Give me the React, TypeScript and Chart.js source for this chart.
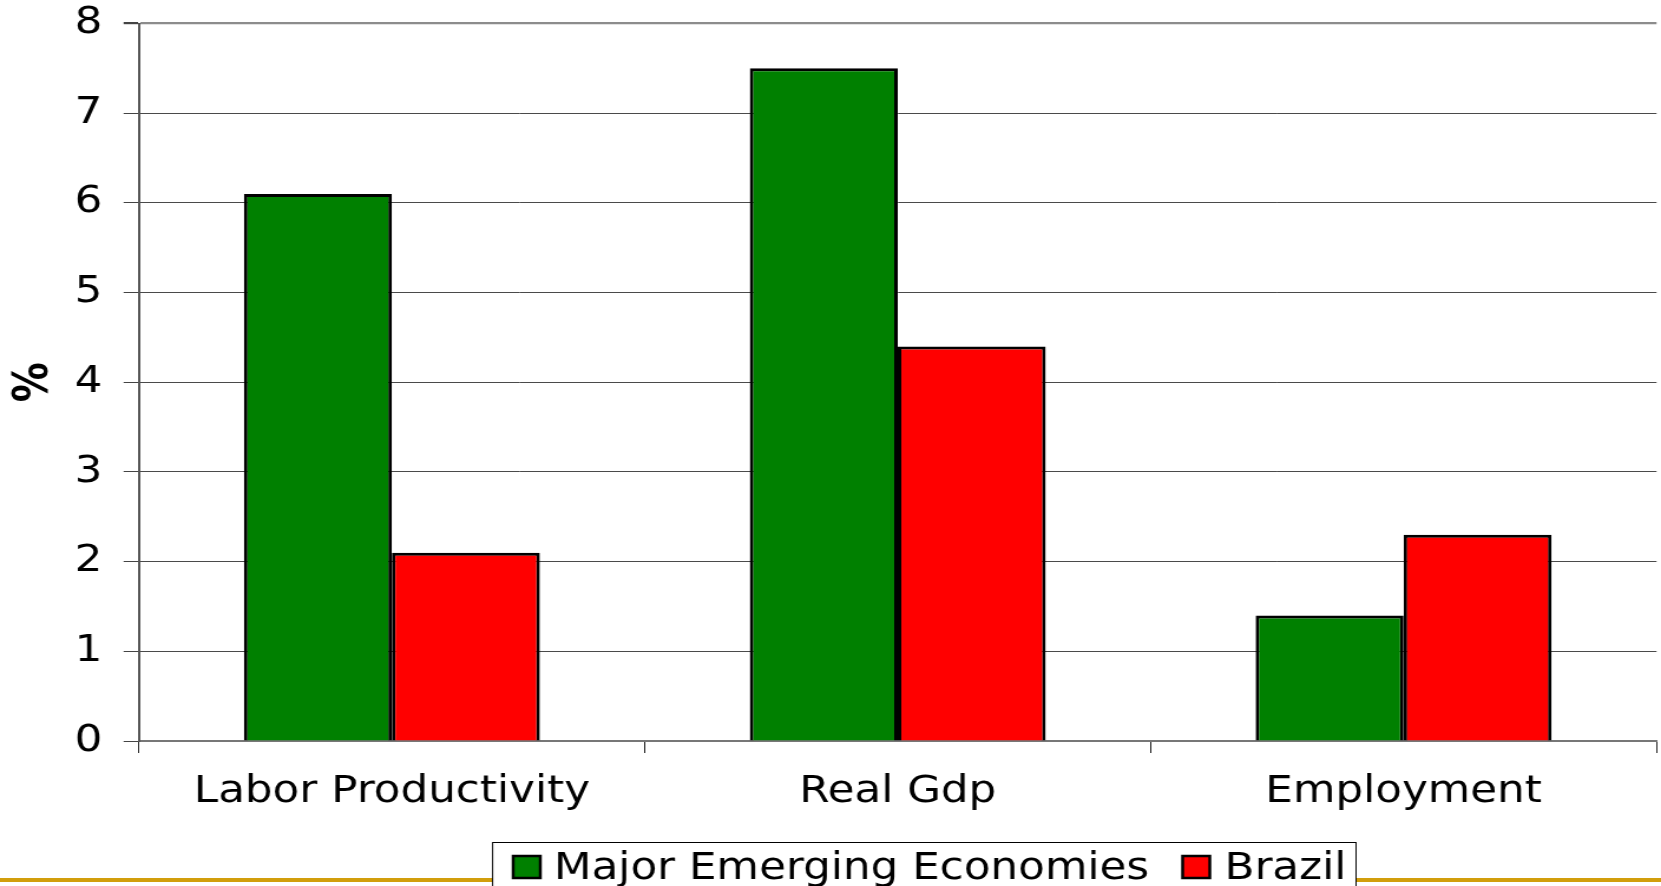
import React, { useEffect, useRef } from "react";
import { Chart, registerables } from "chart.js";

Chart.register(...registerables);

// Growth rates, in %
const categories = ["Labor Productivity", "Real Gdp", "Employment"];
const majorEmerging = [6.1, 7.5, 1.4];
const brazil = [2.1, 4.4, 2.3];
const seriesNames = ["Major Emerging Economies", "Brazil"];
const seriesColors = ["#008000", "#FF0000"];
const yMin = 0;
const yMax = 8;
const yStep = 1;

// The slide is drawn on a narrower canvas and widened horizontally.
const PAGE_W = 1661;
const PAGE_H = 886;
const STRETCH = 1.18;
const CANVAS_W = Math.round(PAGE_W / STRETCH);

const FONT = "'DejaVu Sans', Verdana, sans-serif";
const TEXT_SIZE = 37;

// Gold rule across the slide plus a boxed legend sitting on top of it.
const slideLegend = {
  id: "slideLegend",
  afterDraw(chart: Chart) {
    const ctx = chart.ctx;
    const w = chart.width;
    ctx.save();
    ctx.fillStyle = "#D29E0C";
    ctx.fillRect(0, 878, w, 4);

    const boxL = 417.6;
    const boxR = 1149.5;
    const boxT = 842.5;
    ctx.fillStyle = "#ffffff";
    ctx.fillRect(boxL, boxT, boxR - boxL, 60);
    ctx.strokeStyle = "#000000";
    ctx.lineWidth = 1;
    ctx.strokeRect(boxL, boxT, boxR - boxL, 60);

    const swatchX = [435, 1002.5];
    const textX = [469.5, 1038];
    ctx.font = `${TEXT_SIZE}px ${FONT}`;
    ctx.textBaseline = "alphabetic";
    ctx.textAlign = "left";
    chart.data.datasets.forEach((ds: any, i: number) => {
      ctx.fillStyle = ds.backgroundColor;
      ctx.fillRect(swatchX[i], 856, 23, 22);
      ctx.lineWidth = 2.5;
      ctx.strokeStyle = "#000000";
      ctx.strokeRect(swatchX[i], 856, 23, 22);
      ctx.fillStyle = "#000000";
      ctx.fillText(ds.label, textX[i], 879);
    });
    ctx.restore();
  },
};

export default function App() {
  const canvasRef = useRef<HTMLCanvasElement | null>(null);

  useEffect(() => {
    if (!canvasRef.current) return;
    const chart = new Chart(canvasRef.current, {
      type: "bar",
      data: {
        labels: categories,
        datasets: [
          {
            label: seriesNames[0],
            data: majorEmerging,
            backgroundColor: seriesColors[0],
            borderColor: "#000000",
            borderWidth: 3,
          },
          {
            label: seriesNames[1],
            data: brazil,
            backgroundColor: seriesColors[1],
            borderColor: "#000000",
            borderWidth: 3,
          },
        ],
      },
      options: {
        animation: false,
        responsive: true,
        maintainAspectRatio: false,
        devicePixelRatio: 1,
        layout: {
          autoPadding: false,
          padding: { left: 0, top: 23.5, right: CANVAS_W - 1404.2, bottom: 0 },
        },
        plugins: {
          legend: { display: false },
          tooltip: { enabled: false },
          title: { display: false },
        },
        datasets: {
          bar: { categoryPercentage: 0.585, barPercentage: 1.0 },
        },
        scales: {
          x: {
            afterFit(scale: any) {
              scale.height = PAGE_H - 741;
            },
            grid: {
              offset: true,
              drawOnChartArea: true,
              color: (c: any) => (c.index === categories.length ? "#8c8c8c" : "rgba(0,0,0,0)"),
              lineWidth: (c: any) => (c.index === categories.length ? 2.8 : 1),
              tickColor: "#222222",
              tickLength: 12,
              tickWidth: 1,
            },
            border: { display: true, color: "#777777", width: 2 },
            ticks: {
              color: "#000000",
              font: { family: FONT, size: TEXT_SIZE },
              padding: 17,
              maxRotation: 0,
            },
          },
          y: {
            min: yMin,
            max: yMax,
            afterFit(scale: any) {
              scale.width = 117.8;
              scale.paddingTop = 0;
              scale.paddingBottom = 0;
            },
            grid: {
              color: (c: any) => (c.tick && c.tick.value === yMax ? "#8c8c8c" : "#4a4a4a"),
              lineWidth: (c: any) => (c.tick && c.tick.value === yMax ? 2.2 : 1),
              tickColor: "#444444",
              tickLength: 13,
            },
            border: { display: true, color: "#555555", width: 2 },
            ticks: {
              stepSize: yStep,
              color: "#000000",
              font: { family: FONT, size: TEXT_SIZE },
              padding: 18,
            },
            title: {
              display: true,
              text: "%",
              color: "#000000",
              font: { family: FONT, size: 40, weight: "bold", lineHeight: 1.2 },
              padding: { top: 6, bottom: 0 },
            },
          },
        },
      },
      plugins: [slideLegend],
    });
    return () => chart.destroy();
  }, []);

  return (
    <div
      style={{
        position: "fixed",
        left: 0,
        top: 0,
        width: PAGE_W,
        height: PAGE_H,
        overflow: "hidden",
        background: "#ffffff",
      }}
    >
      <div
        style={{
          position: "absolute",
          left: 0,
          top: 0,
          width: CANVAS_W,
          height: PAGE_H,
          transform: `scaleX(${PAGE_W / CANVAS_W})`,
          transformOrigin: "0 0",
        }}
      >
        <canvas ref={canvasRef} />
      </div>
    </div>
  );
}
